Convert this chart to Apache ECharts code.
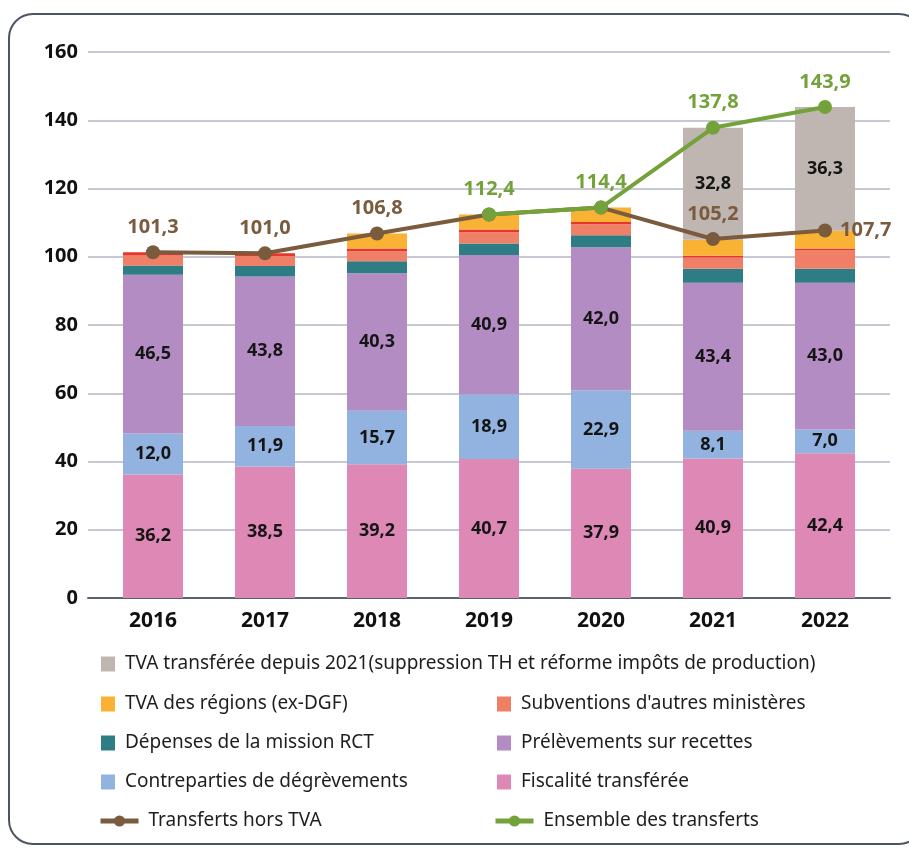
<!DOCTYPE html>
<html>
<head>
<meta charset="utf-8">
<script src="https://cdn.jsdelivr.net/npm/echarts@6/dist/echarts.min.js"></script>
<style>
  html, body { margin: 0; padding: 0; background: #fff; }
  #frame {
    position: absolute; left: 8px; top: 13px; width: 916px; height: 832px;
    border: 2.5px solid #4d5563; border-radius: 25px; box-sizing: border-box;
  }
  #chart { position: absolute; left: 0; top: 0; width: 909px; height: 848px; }
</style>
</head>
<body>
<div id="frame"></div>
<div id="chart"></div>
<script>
// valeurs en Md€
const years = ['2016', '2017', '2018', '2019', '2020', '2021', '2022']
const fiscalite = [36.2, 38.5, 39.2, 40.7, 37.9, 40.9, 42.4]
const contreparties = [12.0, 11.9, 15.7, 18.9, 22.9, 8.1, 7.0]
const prelevements = [46.5, 43.8, 40.3, 40.9, 42.0, 43.4, 43.0]
const missionRct = [2.7, 3.1, 3.5, 3.4, 3.5, 4.1, 4.1]
const subventions = [3.0, 2.9, 2.9, 3.3, 3.2, 3.3, 5.5]
const autres = [0.9, 0.8, 0.8, 0.8, 0.7, 0.5, 0.4]
const tvaRegions = [0, 0, 4.4, 4.4, 4.2, 4.7, 5.2]
const tvaDepuis2021 = [0, 0, 0, 0, 0, 32.8, 36.3]
const horsTva = [101.3, 101.0, 106.8, 112.4, 114.4, 105.2, 107.7]
const ensemble = [null, null, null, 112.4, 114.4, 137.8, 143.9]
const yTicks = [0, 20, 40, 60, 80, 100, 120, 140, 160]

const FONT = 'Noto Sans'
const N_TH = 'TVA transférée depuis 2021(suppression TH et réforme impôts de production)'
const N_REG = 'TVA des régions (ex-DGF)'
const N_SUB = "Subventions d'autres ministères"
const N_RCT = 'Dépenses de la mission RCT'
const N_PSR = 'Prélèvements sur recettes'
const N_CTR = 'Contreparties de dégrèvements'
const N_FIS = 'Fiscalité transférée'
const N_HORS = 'Transferts hors TVA'
const N_ENS = 'Ensemble des transferts'

const fmt = v => Number(v).toFixed(1).replace('.', ',')

function bar(name, data, color, showLabel) {
  return {
    name, type: 'bar', stack: 'total', data,
    xAxisIndex: 1, yAxisIndex: 1,
    barWidth: 60,
    itemStyle: { color },
    label: {
      show: showLabel, position: 'inside',
      color: '#151515', fontFamily: FONT, fontSize: 18, fontWeight: 'bold',
      formatter: p => (p.value ? fmt(p.value) : ''),
    },
  }
}

const legendText = {
  color: '#1e1e1e', fontFamily: FONT, fontSize: 19, lineHeight: 22, padding: [0, 0, 0, 5],
}
const legendBase = {
  orient: 'vertical', selectedMode: false, itemWidth: 14, itemHeight: 15,
  itemGap: 17, textStyle: legendText, icon: 'rect',
}
const lineLegend = {
  ...legendBase, icon: null, itemWidth: 38, itemHeight: 14, itemGap: 9,
  lineStyle: { width: 5 },
}

const chart = echarts.init(document.getElementById('chart'))
chart.setOption({
  animation: false,
  grid: [
    { left: 88, right: 19, top: 52, bottom: 250 },
    { left: 97, right: 28, top: 52, bottom: 250 },
  ],
  xAxis: [
    {
      type: 'category', data: years, gridIndex: 0,
      axisLine: { lineStyle: { color: '#5a6270', width: 2 } },
      axisTick: { show: false }, axisLabel: { show: false },
    },
    {
      type: 'category', data: years, gridIndex: 1,
      axisLine: { show: false }, axisTick: { show: false },
      axisLabel: { color: '#111', fontFamily: FONT, fontSize: 21, fontWeight: 'bold', margin: 13 },
    },
  ],
  yAxis: [
    {
      type: 'value', gridIndex: 0, min: 0, max: 160, interval: 20,
      axisLine: { show: false }, axisTick: { show: false },
      splitLine: { lineStyle: { color: '#b3b7c6', width: 1.5 } },
      axisLabel: {
        color: '#111', fontFamily: FONT, fontSize: 20, fontWeight: 'bold', margin: 10,
        formatter: v => (yTicks.includes(v) ? String(v) : ''),
      },
    },
    {
      type: 'value', gridIndex: 1, min: 0, max: 160, interval: 20,
      show: false,
    },
  ],
  legend: [
    { ...legendBase, left: 96, top: 648, data: [N_TH] },
    { ...legendBase, left: 96, top: 688, data: [N_REG, N_RCT, N_CTR] },
    { ...legendBase, left: 492, top: 688, data: [N_SUB, N_PSR, N_FIS] },
    { ...lineLegend, left: 93, top: 805, data: [N_HORS] },
    { ...lineLegend, left: 488, top: 805, data: [N_ENS] },
  ],
  series: [
    bar(N_FIS, fiscalite, '#dd88b5', true),
    bar(N_CTR, contreparties, '#92b3df', true),
    bar(N_PSR, prelevements, '#b28cc2', true),
    bar(N_RCT, missionRct, '#2e7c84', false),
    bar(N_SUB, subventions, '#ef7f67', false),
    bar('Autres', autres, '#e8362b', false),
    bar(N_REG, tvaRegions, '#f9b233', false),
    bar(N_TH, tvaDepuis2021, '#bfb6b1', true),
    {
      name: N_HORS, type: 'line', xAxisIndex: 1, yAxisIndex: 1,
      data: horsTva.map((v, i) => ({
        value: v,
        label: { show: i !== 3 && i !== 4, position: i === 6 ? 'right' : 'top' },
      })),
      symbol: 'circle', symbolSize: 14,
      lineStyle: { color: '#7a5b3e', width: 4 },
      itemStyle: { color: '#7a5b3e' },
      label: {
        color: '#7a5b3e', fontFamily: FONT, fontSize: 20, fontWeight: 'bold', distance: 8,
        formatter: p => fmt(p.value),
      },
      z: 5,
    },
    {
      name: N_ENS, type: 'line', xAxisIndex: 1, yAxisIndex: 1,
      data: ensemble,
      symbol: 'circle', symbolSize: 14,
      lineStyle: { color: '#74a23a', width: 4 },
      itemStyle: { color: '#74a23a' },
      label: {
        show: true, position: 'top',
        color: '#74a23a', fontFamily: FONT, fontSize: 20, fontWeight: 'bold', distance: 8,
        formatter: p => fmt(p.value),
      },
      z: 6,
    },
  ],
})
</script>
</body>
</html>
